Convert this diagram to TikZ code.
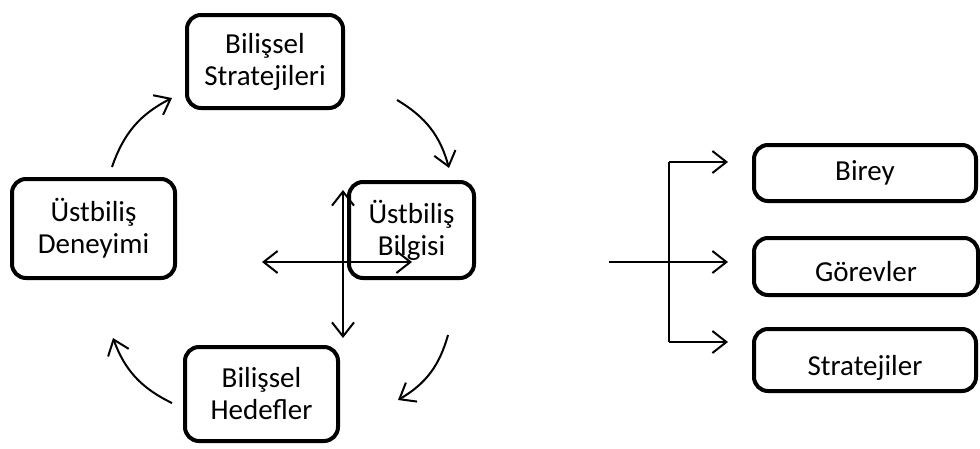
\documentclass[tikz,border=0pt]{standalone}
\usepackage{fontspec}
\setmainfont{Carlito}
\usetikzlibrary{arrows.meta}
\begin{document}
\begin{tikzpicture}[x=1pt,y=-1pt,
  box/.style={draw, line width=4pt, rounded corners=14pt, align=center,
    font=\fontsize{29}{32}\selectfont, inner sep=0pt, fill=white},
  tipb/.tip={Straight Barb[length=14pt,width=22pt]},
  arr/.style={line width=2pt, -tipb},
  darr/.style={line width=2pt, tipb-tipb},
  plain/.style={line width=2pt}]
\useasboundingbox (0,0) rectangle (980,448);
% cycle boxes
\node[box, minimum width=156pt, minimum height=93pt] (bs) at (265,61.5) {Bilişsel\\Stratejileri};
\node[box, minimum width=163pt, minimum height=99pt] (ud) at (93.5,228.5) {Üstbiliş\\Deneyimi};
\node[box, minimum width=125pt, minimum height=96pt] (ub) at (411.5,230) {Üstbiliş\\Bilgisi};
\node[box, minimum width=153pt, minimum height=94pt] (bh) at (261.5,394) {Bilişsel\\Hedefler};
% right boxes
\node[box, minimum width=222pt, minimum height=56pt] (bi) at (865,173) {Birey};
\node[box, minimum width=224pt, minimum height=57pt, text height=30pt] (go) at (866,266.5) {Görevler};
\node[box, minimum width=222pt, minimum height=62pt, text height=36pt] (st) at (865,360) {Stratejiler};
% curved arrows
\coordinate (c1s) at (112,167); \coordinate (c1e) at (172,98);
\coordinate (c2s) at (397,100); \coordinate (c2e) at (449,168);
\coordinate (c3s) at (448,335); \coordinate (c3e) at (398,400);
\coordinate (c4s) at (172,403); \coordinate (c4e) at (113,338);
\draw[arr] (c1s) to[bend left=22] (c1e);
\draw[arr] (c2s) to[bend left=22] (c2e);
\draw[arr] (c3s) to[bend left=22] (c3e);
\draw[arr] (c4s) to[bend left=22] (c4e);
% cross arrows
\coordinate (hl) at (262,262); \coordinate (hr) at (412,262);
\coordinate (vt) at (343,190); \coordinate (vb) at (343,338);
\draw[darr] (hl) -- (hr);
\draw[darr] (vt) -- (vb);
% tree
\coordinate (t0) at (609,262);
\coordinate (tt) at (669,162); \coordinate (tb) at (669,342);
\draw[arr] (t0) -- (728,262) coordinate (a2);
\draw[plain] (tt) -- (tb);
\draw[arr] (tt) -- (728,162) coordinate (a1);
\draw[arr] (tb) -- (728,342) coordinate (a3);
\end{tikzpicture}
\end{document}
